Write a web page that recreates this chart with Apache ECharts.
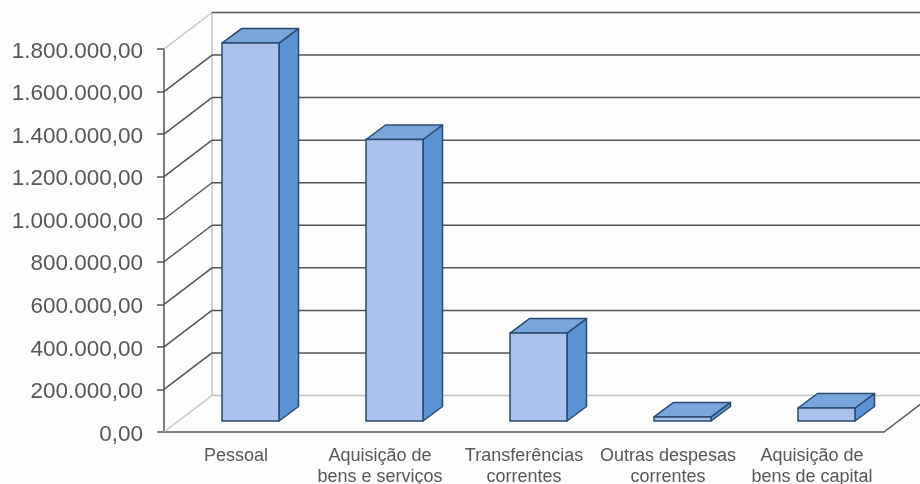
<!DOCTYPE html>
<html>
<head>
<meta charset="utf-8">
<script src="https://cdn.jsdelivr.net/npm/echarts@6/dist/echarts.min.js"></script>
<style>
  html, body { margin: 0; padding: 0; background: #fdfdfb; }
  #chart { width: 920px; height: 484px; }
</style>
</head>
<body>
<div id="chart"></div>
<script>
const categories = ['Pessoal', 'Aquisição de\nbens e serviços', 'Transferências\ncorrentes', 'Outras despesas\ncorrentes', 'Aquisição de\nbens de capital'];
const despesas = [1776000, 1323000, 413000, 19000, 61000];
const yTicks = [0, 200000, 400000, 600000, 800000, 1000000, 1200000, 1400000, 1600000, 1800000];

// pseudo 3D offsets, in pixels
const wallDx = 48, wallDy = -36.5;
const barDx = 14.5, barDy = -11, barWidth = 57, depthDx = 19.5, depthDy = -14.5;

const darkLine = '#50555a', lightLine = '#c4c6c4', barBorder = '#2b4a70';

function formatValue(v) {
    return String(v).replace(/\B(?=(\d{3})+$)/g, '.') + ',00';
}

function line(x1, y1, x2, y2, color) {
    return {type: 'line', shape: {x1, y1, x2, y2}, style: {stroke: color, lineWidth: 1.5}};
}

function renderWall(params, api) {
    const value = api.value(0);
    const start = api.coord([0, value]);
    const x = start[0] - api.size([1, 0])[0] / 2;
    const y = start[1];
    const edge = value === 0 || value === 1800000;
    const children = [line(x, y, x + wallDx, y + wallDy, edge ? lightLine : darkLine)];
    children.push(line(x + wallDx, y + wallDy, 920, y + wallDy, value === 0 ? lightLine : darkLine));
    if (value === 0) {
        children.push(line(x + wallDx, y + wallDy, x + wallDx, y + wallDy - api.size([0, 1800000])[1], lightLine));
        const right = x + api.size([1, 0])[0] * categories.length;
        children.push(line(right, y, 920, y - (920 - right) * 36.5 / 48, darkLine));
    }
    return {type: 'group', children};
}

function renderBar(params, api) {
    const base = api.coord([api.value(0), 0]);
    const top = api.coord([api.value(0), api.value(1)]);
    const x1 = base[0] + barDx - barWidth / 2, x2 = x1 + barWidth;
    const y1 = top[1] + barDy, y2 = base[1] + barDy;
    const border = {stroke: barBorder, lineWidth: 1.5, lineJoin: 'round'};
    return {
        type: 'group',
        children: [
            {type: 'polygon', shape: {points: [[x2, y1], [x2 + depthDx, y1 + depthDy], [x2 + depthDx, y2 + depthDy], [x2, y2]]},
                style: {fill: '#5b93d4', ...border}},
            {type: 'polygon', shape: {points: [[x1, y1], [x1 + depthDx, y1 + depthDy], [x2 + depthDx, y1 + depthDy], [x2, y1]]},
                style: {fill: '#79a5dd', ...border}},
            {type: 'rect', shape: {x: x1, y: y1, width: barWidth, height: y2 - y1},
                style: {fill: '#a9c1eb', ...border}}
        ]
    };
}

const chart = echarts.init(document.getElementById('chart'));
chart.setOption({
    animation: false,
    backgroundColor: '#fdfdfb',
    grid: {left: 164, right: 36, top: 49, bottom: 52, outerBoundsMode: 'none'},
    xAxis: {
        type: 'category',
        data: categories,
        axisLine: {lineStyle: {color: darkLine, width: 1.5}},
        axisTick: {length: 6, lineStyle: {color: darkLine, width: 1.5}},
        axisLabel: {
            interval: 0, margin: 14, color: '#55585b', fontSize: 18, lineHeight: 21,
            fontFamily: 'Liberation Sans'
        }
    },
    yAxis: {
        type: 'value',
        min: 0,
        max: 1800000,
        interval: 200000,
        splitLine: {show: false},
        axisLine: {show: true, lineStyle: {color: darkLine, width: 1.5}},
        axisTick: {show: true, length: 7, lineStyle: {color: darkLine, width: 1.5}},
        axisLabel: {
            margin: 21, color: '#55585b', fontSize: 22.5, fontFamily: 'Liberation Sans',
            verticalAlign: 'top', lineHeight: 5,
            formatter: formatValue
        }
    },
    series: [
        {
            type: 'custom',
            clip: false,
            silent: true,
            z: 1,
            data: yTicks.map(v => [v]),
            encode: {y: 0},
            renderItem: renderWall
        },
        {
            type: 'custom',
            clip: false,
            z: 3,
            data: despesas.map((v, i) => [i, v]),
            encode: {x: 0, y: 1},
            renderItem: renderBar
        }
    ]
});
</script>
</body>
</html>
